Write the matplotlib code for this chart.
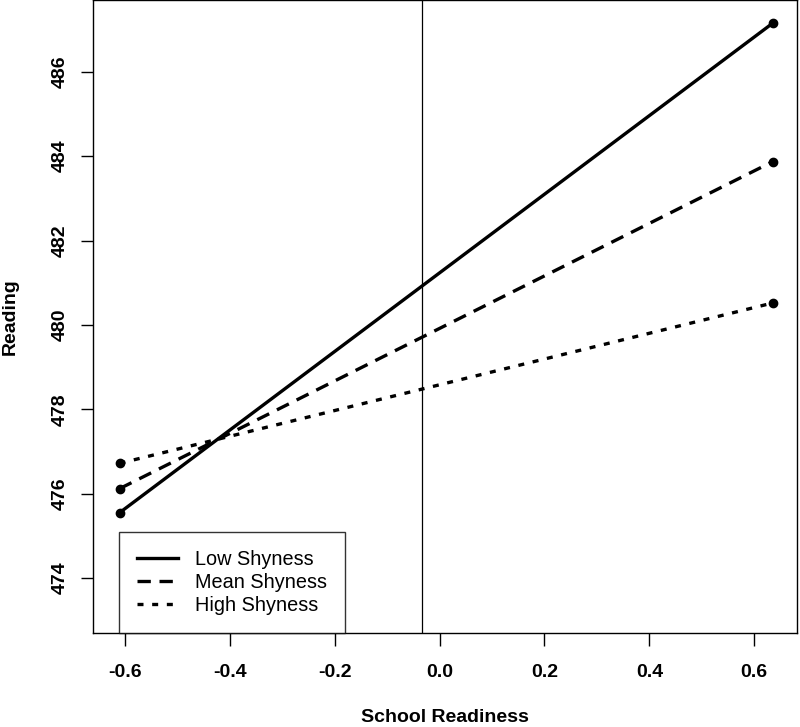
import matplotlib
matplotlib.use("Agg")
import matplotlib.pyplot as plt
import numpy as np

# simple slopes: school readiness at low / high, reading predicted
x_vals = [-0.61, 0.635]
low_shy = [475.55, 487.15]
mean_shy = [476.12, 483.87]
high_shy = [476.72, 480.52]
labels = ["Low Shyness", "Mean Shyness", "High Shyness"]
vline_x = -0.033

xticks = [-0.6, -0.4, -0.2, 0.0, 0.2, 0.4, 0.6]
yticks = [474, 476, 478, 480, 482, 484, 486]

plt.rcParams['font.family'] = ['Liberation Sans', 'DejaVu Sans']

fig = plt.figure(figsize=(8, 7.27), dpi=100)
ax = fig.add_axes([0.116, 0.1293, 0.880, 0.8707])

styles = [
    dict(linestyle='-', lw=2.4),
    dict(linestyle=(0, (4, 2.6)), lw=2.4),
    dict(linestyle=(0, (1.8, 2.6)), lw=2.4),
]
for ys, lab, st in zip([low_shy, mean_shy, high_shy], labels, styles):
    ax.plot(x_vals, ys, color='black', label=lab, **st)
    ax.plot(x_vals, ys, 'o', color='black', markersize=6)

ax.axvline(vline_x, color='black', lw=0.9)

ax.set_xlim(-0.661, 0.681)
ax.set_ylim(472.70, 487.70)
ax.set_xticks(xticks)
ax.set_xticklabels(["%.1f" % t for t in xticks], fontsize=14, fontweight='bold')
ax.set_yticks(yticks)
ax.set_yticklabels([str(t) for t in yticks], fontsize=14, fontweight='bold',
                   rotation=90, va='center')
ax.tick_params(direction='out', length=9, width=1)
ax.tick_params(axis='x', pad=13.5)
ax.tick_params(axis='y', pad=8)
for s in ax.spines.values():
    s.set_linewidth(1)

ax.set_xlabel("School Readiness", fontsize=14, fontweight='bold', labelpad=20)
ax.set_ylabel("Reading", fontsize=14, fontweight='bold', labelpad=24)

leg = ax.legend(loc='lower left', bbox_to_anchor=(0.037, 0.0), fontsize=14.3,
                frameon=True, fancybox=False, edgecolor='black',
                handlelength=2.1, borderpad=0.9, labelspacing=0.2,
                handletextpad=0.85, borderaxespad=0)
leg.get_frame().set_linewidth(1)

fig.savefig("out.png", dpi=100)
